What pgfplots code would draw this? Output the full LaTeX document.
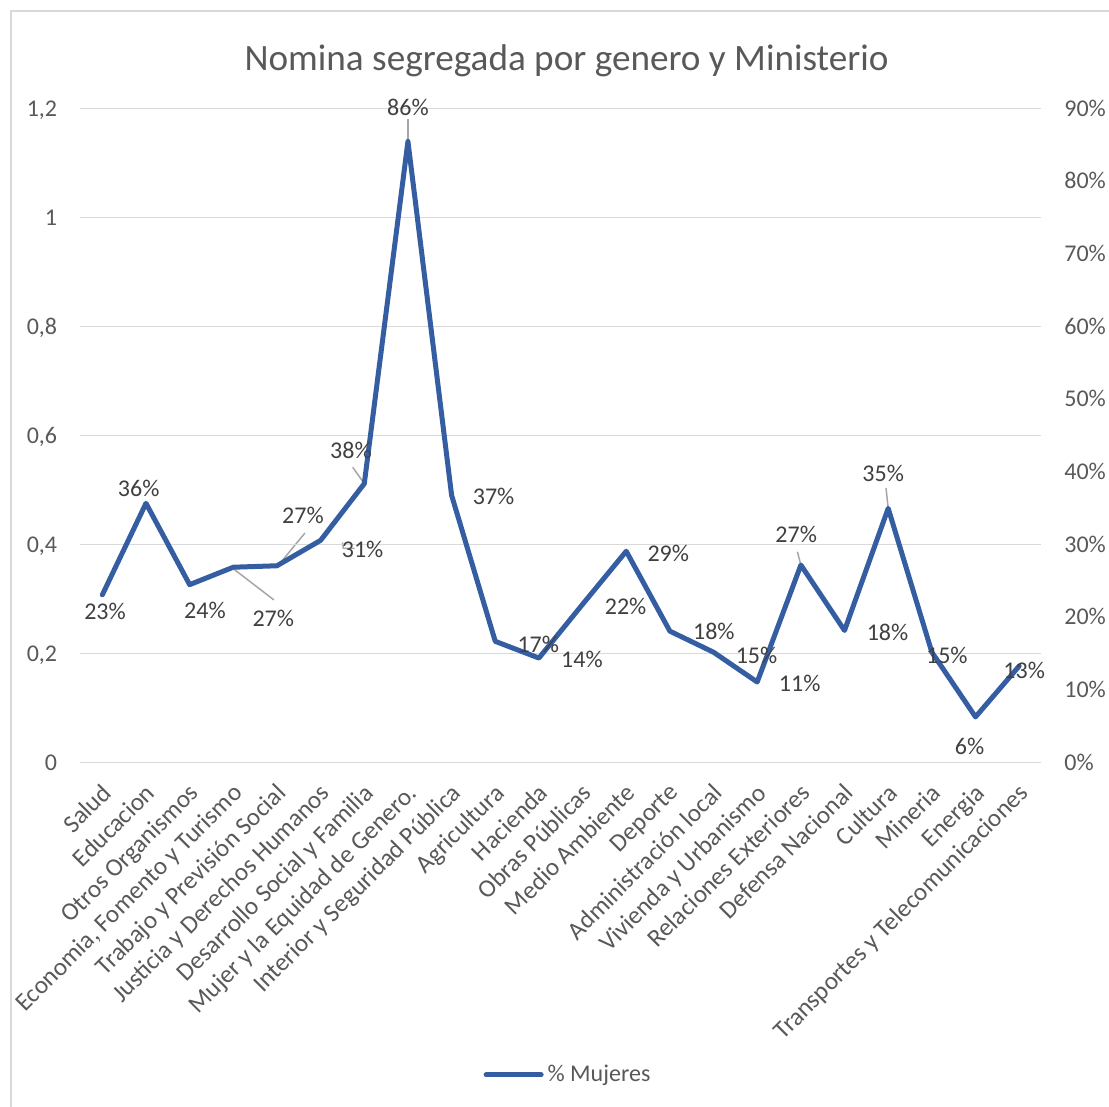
\documentclass[border=0pt]{standalone}
\usepackage{fontspec}
\setmainfont{Carlito}
\usepackage{pgfplots}
\usepackage{pgfplotstable}
\pgfplotsset{compat=1.18}
\definecolor{linecol}{RGB}{53,94,162}
\definecolor{gridcol}{RGB}{217,217,217}
\definecolor{tickcol}{RGB}{89,89,89}
\definecolor{labcol}{RGB}{64,64,64}
\definecolor{leadcol}{RGB}{166,166,166}

\pgfplotstableread{
x y lab dx dy
0 23.1 23 1.35 -8.25
1 35.7 36 -3.65 7.5
2 24.5 24 7.65 -13
3 26.9 27 20 -25.7
4 27.1 27 13 25.1
5 30.6 31 21 -4.75
6 38.4 38 -6.65 16.65
7 85.5 86 0 17
8 36.8 37 21 -0.5
9 16.7 17 21.5 -1.5
10 14.4 14 21.5 -0.5
11 21.8 22 21.5 -1
12 29.1 29 21 -1
13 18.1 18 22 0
14 15.2 15 21.5 -1.5
15 11.1 11 21.25 -0.5
16 27.2 27 -2.35 15.4
17 18.2 18 21.5 -1
18 35.0 35 -2.5 17.6
19 15.2 15 7.5 -1.5
20 6.3 6 -3 -14.75
21 13.3 13 2.5 -2.4
}\datatable

\begin{document}
\begin{tikzpicture}
\begin{axis}[at={(0,0)}, anchor=south west, scale only axis,
  width=480.25pt, height=327pt,
  xmin=-0.5, xmax=21.5, ymin=0, ymax=1.2,
  ytick={0,0.2,0.4,0.6,0.8,1,1.2}, xtick=\empty,
  ymajorgrids, grid style={gridcol, line width=0.75pt},
  axis line style={draw=none}, tick style={draw=none}, major tick length=0pt,
  yticklabel style={font=\fontsize{12}{14}\selectfont, text=tickcol, inner sep=0pt,
    anchor=base east, xshift=-11.5pt, yshift=-3.8pt},
  /pgf/number format/.cd, use comma, fixed, assume math mode=true]
\addplot[draw=none] coordinates {(0,0)};
\end{axis}
\begin{axis}[at={(0,0)}, anchor=south west, scale only axis,
  width=480.25pt, height=327pt, set layers,
  xmin=-0.5, xmax=21.5, ymin=0, ymax=90,
  ytick={0,10,20,30,40,50,60,70,80,90},
  ytick pos=right, yticklabel pos=right,
  yticklabel={\pgfmathprintnumber{\tick}\%},
  xtick={0,...,21}, xtick pos=bottom,
  xticklabels={Salud, Educacion, Otros Organismos, {Economia, Fomento y Turismo}, Trabajo y Previsión Social, Justicia y Derechos Humanos, Desarrollo Social y Familia, Mujer y la Equidad de Genero., Interior y Seguridad Pública, Agricultura, Hacienda, Obras Públicas, Medio Ambiente, Deporte, Administración local, Vivienda y Urbanismo, Relaciones Exteriores, Defensa Nacional, Cultura, Mineria, Energia, Transportes y Telecomunicaciones},
  axis line style={draw=none}, tick style={draw=none}, major tick length=0pt,
  yticklabel style={font=\fontsize{12}{14}\selectfont, text=tickcol, inner sep=0pt,
    anchor=base west, xshift=11.5pt, yshift=-3.8pt},
  xticklabel style={font=\fontsize{12.6}{14}\selectfont, text=tickcol, inner sep=0pt,
    xshift=-1pt, yshift=-9.5pt, rotate=45, anchor=north east},
  clip=false,
  legend style={draw=none, fill=none, at={(0.5086,-0.4775)}, anchor=center,
    font=\fontsize{12}{14}\selectfont, text=tickcol, inner sep=0pt},
  legend image code/.code={\draw[linecol, line width=2.5pt, line cap=round] (0pt,0pt) -- (27.5pt,0pt);},
  /pgf/number format/assume math mode=true]
\begin{pgfonlayer}{axis background}
\draw[leadcol, line width=0.75pt] (axis cs:3.02,26.6) -- (axis cs:3.93,22.4);
\draw[leadcol, line width=0.75pt] (axis cs:4.05,27.3) -- (axis cs:4.64,31.6);
\draw[leadcol, line width=0.75pt] (axis cs:5.5,30.3) -- (axis cs:5.52,29.5) -- (axis cs:5.78,29.5);
\draw[leadcol, line width=0.75pt] (axis cs:5.735,40.65) -- (axis cs:5.99,38.5);
\draw[leadcol, line width=0.75pt] (axis cs:7,88.6) -- (axis cs:7,85.5);
\draw[leadcol, line width=0.75pt] (axis cs:15.92,29.03) -- (axis cs:16,27.2);
\draw[leadcol, line width=0.75pt] (axis cs:17.95,37.8) -- (axis cs:18,35);
\end{pgfonlayer}
\addplot[linecol, line width=2.5pt, line join=round, line cap=round, mark=none,
  point meta=explicit,
  nodes near coords={\pgfmathprintnumber[fixed,precision=0]{\pgfplotspointmeta}\%},
  visualization depends on={\thisrow{dx}\as\dx},
  visualization depends on={\thisrow{dy}\as\dy},
  nodes near coords style={anchor=center, inner sep=0pt,
    font=\fontsize{12}{14}\selectfont, text=labcol, xshift=\dx pt, yshift=\dy pt}]
  table[x=x, y=y, meta=lab]{\datatable};
\addlegendentry{\% Mujeres}
\end{axis}
\node[anchor=base, font=\fontsize{18.6}{22}\selectfont, text=tickcol] at (243pt,346pt) {Nomina segregada por genero y Ministerio};
\draw[gridcol, line width=1pt] (-34.75pt,-172.15pt) -- (-34.75pt,376pt) -- (514.25pt,376pt);
\pgfresetboundingbox
\useasboundingbox (-40.25pt,-172.15pt) rectangle (514.25pt,381.35pt);
\end{tikzpicture}
\end{document}
